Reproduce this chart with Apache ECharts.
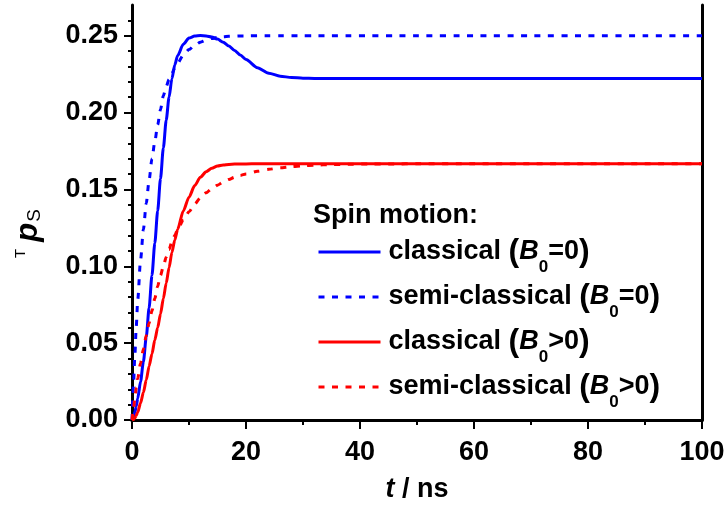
<!DOCTYPE html>
<html>
<head>
<meta charset="utf-8">
<script src="https://cdn.jsdelivr.net/npm/echarts@6/dist/echarts.min.js"></script>
<style>
html,body{margin:0;padding:0;background:#fff;}
#c{width:728px;height:508px;}
</style>
</head>
<body>
<div id="c"></div>
<script>
// time axis (ns)
var times = [0,0.25,0.5,0.75,1,1.5,2,2.5,3,3.5,4,4.5,5,5.5,6,6.5,7,7.5,8,9,10,11,12,13,14,15,16,17,18,19,20,22,24,26,28,30,32,35,38,42,46,50,60,70,80,90,100];
// classical, B0 = 0 (blue solid)
var classicalB0zero = [0,0.002,0.005,0.009,0.014,0.025,0.038,0.054,0.073,0.094,0.115,0.136,0.157,0.177,0.195,0.210,0.222,0.231,0.237,0.2445,0.2485,0.2498,0.2501,0.2499,0.2492,0.2478,0.2458,0.2433,0.2404,0.2374,0.2345,0.2292,0.2256,0.2237,0.2228,0.2224,0.2222,0.2222,0.2222,0.2222,0.2222,0.2222,0.2222,0.2222,0.2222,0.2222,0.2222];
// semi-classical, B0 = 0 (blue dotted)
var semiB0zero = [0,0.022,0.042,0.061,0.078,0.104,0.124,0.141,0.156,0.170,0.181,0.192,0.202,0.211,0.217,0.2215,0.2255,0.229,0.232,0.2375,0.241,0.2438,0.2458,0.2471,0.2482,0.2489,0.2493,0.2496,0.2498,0.2499,0.2499,0.25,0.25,0.25,0.25,0.25,0.25,0.25,0.25,0.25,0.25,0.25,0.25,0.25,0.25,0.25,0.25];
// classical, B0 > 0 (red solid)
var classicalB0pos = [0,0.0003,0.0012,0.003,0.005,0.011,0.018,0.026,0.035,0.043,0.052,0.060,0.069,0.079,0.089,0.099,0.109,0.117,0.124,0.136,0.145,0.1525,0.158,0.1615,0.1638,0.1652,0.1659,0.1663,0.1665,0.1666,0.1666,0.1667,0.1667,0.1667,0.1667,0.1667,0.1667,0.1667,0.1667,0.1667,0.1667,0.1667,0.1667,0.1667,0.1667,0.1667,0.1667];
// semi-classical, B0 > 0 (red dotted)
var semiB0pos = [0,0.007,0.014,0.021,0.027,0.037,0.046,0.055,0.063,0.071,0.079,0.087,0.094,0.100,0.106,0.111,0.116,0.120,0.124,0.130,0.1355,0.1405,0.1445,0.1478,0.1505,0.1528,0.1548,0.1565,0.1579,0.1591,0.1601,0.1618,0.1631,0.1641,0.1648,0.1654,0.1658,0.1662,0.1664,0.1666,0.1666,0.1667,0.1667,0.1667,0.1667,0.1667,0.1667];

var seriesNames = ['classical (B0=0)','semi-classical (B0=0)','classical (B0>0)','semi-classical (B0>0)'];
var yMajorTicks = [0,0.05,0.10,0.15,0.20,0.25];
var yMinorTicks = [0.01,0.02,0.03,0.04,0.06,0.07,0.08,0.09,0.11,0.12,0.13,0.14,0.16,0.17,0.18,0.19,0.21,0.22,0.23,0.24,0.26];
var xTickLabels = [0,20,40,60,80,100];

function pairs(ys){ return times.map(function(t,i){return [t, ys[i]];}); }

var FF = '"Liberation Sans", Arial, sans-serif';
var chart = echarts.init(document.getElementById('c'), null, {renderer:'canvas'});

var legendRich = {
  n: {fontFamily:FF, fontWeight:'bold', fontSize:27, color:'#000'},
  p: {fontFamily:FF, fontWeight:'bold', fontSize:32, color:'#000'},
  b: {fontFamily:FF, fontWeight:'bold', fontStyle:'italic', fontSize:27, color:'#000'},
  s: {fontFamily:FF, fontWeight:'bold', fontSize:17, color:'#000', verticalAlign:'bottom', padding:[0,0,-8,0]}
};
function legendFmt(name){
  var m = name.match(/^(.*) \(B0(.)0\)$/);
  return '{n|' + m[1] + ' }{p|(}{b|B}{s|0}{n|' + m[2] + '0}{p|)}';
}
function lineSeries(name, ys, color, dotted){
  return {
    name: name, type:'line', data: pairs(ys), showSymbol:false, symbol:'none',
    smooth:0.25, smoothMonotone:'x', clip:true,
    lineStyle:{color:color, width:3, type: dotted ? [6,7.5] : 'solid'},
    itemStyle:{color:color}, z: 3
  };
}

chart.setOption({
  animation:false,
  backgroundColor:'#fff',
  grid:{left:132, right:26, top:5, bottom:85, containLabel:false},
  title:{text:'Spin motion:', left:308, top:197,
    textStyle:{fontFamily:FF, fontWeight:'bold', fontSize:27, color:'#000'}},
  legend:{
    orient:'vertical', left:312, top:231, itemWidth:62, itemHeight:14, itemGap:5,
    data: seriesNames,
    formatter: legendFmt,
    textStyle:{rich:legendRich, padding:[0,0,0,3]},
    lineStyle:{width:3},
    itemStyle:{opacity:0}
  },
  xAxis:[{
    type:'value', min:0, max:100, interval:20, position:'bottom',
    axisLine:{show:true, lineStyle:{color:'#000', width:3}},
    axisTick:{show:true, length:9, lineStyle:{color:'#000', width:2}},
    minorTick:{show:true, splitNumber:2, length:5, lineStyle:{color:'#000', width:2}},
    splitLine:{show:false},
    axisLabel:{fontFamily:FF, fontWeight:'bold', fontSize:27, color:'#000', margin:19},
    name:'{i|t}{n| / ns}', nameLocation:'middle', nameGap:56,
    nameTextStyle:{rich:{
      i:{fontFamily:FF, fontWeight:'bold', fontStyle:'italic', fontSize:27, color:'#000'},
      n:{fontFamily:FF, fontWeight:'bold', fontSize:27, color:'#000'}}}
  },{
    type:'value', min:0, max:100, interval:10, position:'top',
    axisLine:{show:true, lineStyle:{color:'#000', width:3}},
    axisTick:{show:true, inside:true, length:4, lineStyle:{color:'#000', width:2}},
    axisLabel:{show:false}, splitLine:{show:false}
  }],
  yAxis:[{
    type:'value', min:0, max:0.27, interval:0.05, position:'left',
    axisLine:{show:true, lineStyle:{color:'#000', width:3}},
    axisTick:{show:true, length:8, customValues: yMajorTicks, lineStyle:{color:'#000', width:2}},
    splitLine:{show:false},
    axisLabel:{fontFamily:FF, fontWeight:'bold', fontSize:27, color:'#000', margin:14,
      customValues: yMajorTicks,
      formatter:function(v){return v.toFixed(2);}},
    name:'{t|T}{p|p}{s|S}', nameLocation:'middle', nameGap:88, nameRotate:90,
    nameTextStyle:{padding:[0,42,0,0], rich:{
      t:{fontFamily:FF, fontSize:15, color:'#000', verticalAlign:'top', padding:[0,7,12,0]},
      p:{fontFamily:FF, fontWeight:'bold', fontStyle:'italic', fontSize:31, color:'#000'},
      s:{fontFamily:FF, fontSize:19, color:'#000', verticalAlign:'bottom', padding:[0,0,0,1]}}}
  },{
    type:'value', min:0, max:0.27, interval:0.01, position:'left',
    axisLine:{show:false},
    axisTick:{show:true, length:4, customValues: yMinorTicks, lineStyle:{color:'#000', width:2}},
    axisLabel:{show:false}, splitLine:{show:false}
  },{
    type:'value', min:0, max:0.27, position:'right',
    axisLine:{show:true, lineStyle:{color:'#000', width:3}},
    axisTick:{show:false}, axisLabel:{show:false}, splitLine:{show:false}
  }],
  series:[
    lineSeries(seriesNames[0], classicalB0zero, '#0000ff', false),
    lineSeries(seriesNames[1], semiB0zero, '#0000ff', true),
    lineSeries(seriesNames[2], classicalB0pos, '#ff0000', false),
    lineSeries(seriesNames[3], semiB0pos, '#ff0000', true)
  ]
});
</script>
</body>
</html>
